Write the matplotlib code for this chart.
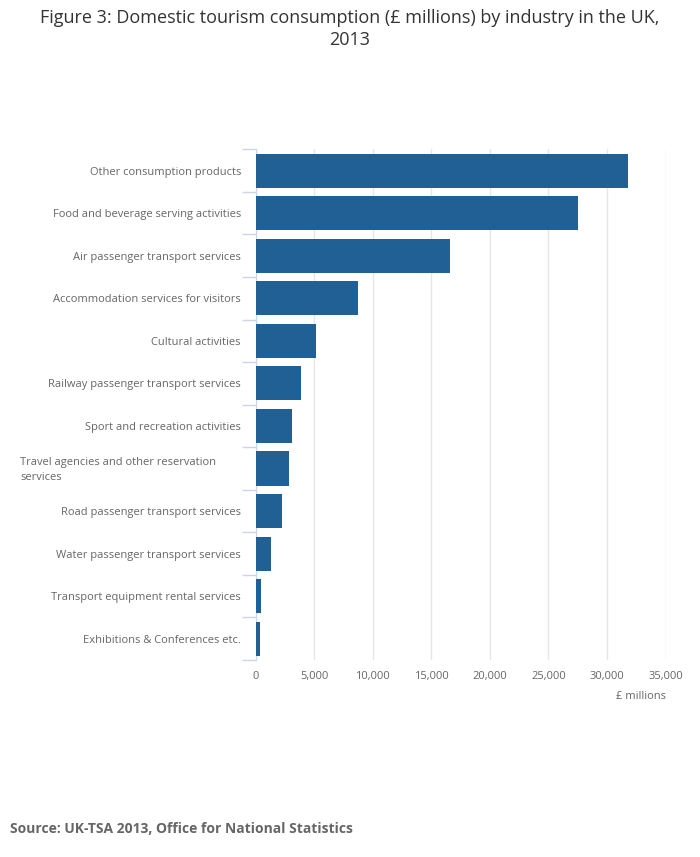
import matplotlib.pyplot as plt
import matplotlib.transforms as mtransforms
from matplotlib.ticker import FuncFormatter, MultipleLocator

plt.rcParams['font.family'] = ['Open Sans', 'DejaVu Sans']

industries = [
    "Other consumption products",
    "Food and beverage serving activities",
    "Air passenger transport services",
    "Accommodation services for visitors",
    "Cultural activities",
    "Railway passenger transport services",
    "Sport and recreation activities",
    "Travel agencies and other reservation\nservices",
    "Road passenger transport services",
    "Water passenger transport services",
    "Transport equipment rental services",
    "Exhibitions & Conferences etc.",
]
spend = [31800, 27550, 16600, 8770, 5180, 3900, 3130, 2870, 2280, 1340, 490, 400]

fig = plt.figure(figsize=(7, 8.57), dpi=100)
ax = fig.add_axes([255.5 / 700, 1 - 660 / 857, 410 / 700, (660 - 149.3) / 857])

ypos = list(range(len(industries)))
ax.barh(ypos, spend, height=0.8, color='#206095', zorder=3)
ax.set_ylim(len(industries) - 0.5, -0.5)
ax.set_xlim(0, 35000)

ax.xaxis.set_major_locator(MultipleLocator(5000))
ax.xaxis.set_major_formatter(FuncFormatter(lambda v, p: f"{int(v):,}"))
ax.grid(axis='x', color='#e6e6e6', linewidth=1, zorder=0)

# wrapped labels are drawn separately, left-aligned like the original
short = [s if "\n" not in s else "" for s in industries]
ax.set_yticks(ypos)
ax.set_yticklabels(short, fontsize=8, color='#666666')
trans = mtransforms.blended_transform_factory(fig.transFigure, ax.transData)
for i, s in enumerate(industries):
    if "\n" in s:
        ax.text(20 / 700, i + 0.03, s, transform=trans, ha='left', va='center',
                fontsize=8, color='#666666', linespacing=1.5)

ax.set_yticks([i + 0.5 for i in range(-1, len(industries))], minor=True)
ax.tick_params(axis='y', which='major', length=0, pad=10.5)
ax.tick_params(axis='y', which='minor', length=10, color='#ccd6eb', width=1)
ax.tick_params(axis='x', length=0, labelsize=8, labelcolor='#666666', pad=8)

for side in ['top', 'right', 'bottom']:
    ax.spines[side].set_visible(False)
ax.spines['left'].set_color('#ccd6eb')

ax.text(1.0, -0.061, "£ millions", transform=ax.transAxes, ha='right', va='top',
        fontsize=8, color='#666666')

fig.text(0.5, 1 - 29 / 857, "Figure 3: Domestic tourism consumption (£ millions) by industry in the UK,\n2013",
         ha='center', va='center', fontsize=13, color='#333333', linespacing=1.25)
fig.text(10 / 700, 1 - 829 / 857, "Source: UK-TSA 2013, Office for National Statistics",
         ha='left', va='center', fontsize=10, fontweight='bold', color='#666666')

fig.savefig('out.png', dpi=100)
